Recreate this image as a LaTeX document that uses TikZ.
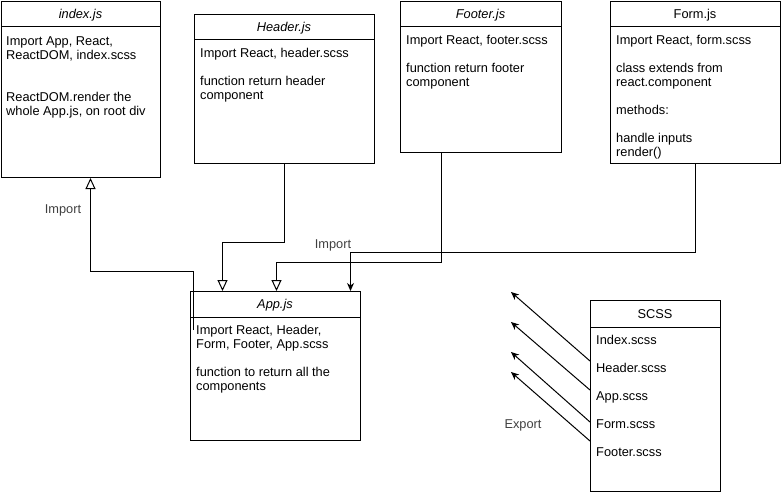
\documentclass[tikz,border=0pt]{standalone}
\usepackage{fontspec}
\setmainfont{Liberation Sans}
\usetikzlibrary{arrows.meta}
\begin{document}
\begin{tikzpicture}[x=1pt,y=-1pt,
  box/.style={draw, line width=1pt, anchor=north west, inner sep=0pt},
  sep/.style={line width=1pt},
  ttl/.style={font=\fontsize{12.8}{14}\selectfont\itshape, inner sep=0pt, anchor=base},
  ttlup/.style={font=\fontsize{12.8}{14}\selectfont, inner sep=0pt, anchor=base},
  body/.style={anchor=north west, inner sep=0pt, align=left, font=\fontsize{12.8}{14}\selectfont},
  lbl/.style={font=\fontsize{12.8}{14}\selectfont, text=black!75, inner sep=0pt, anchor=base},
  conn/.style={line width=1pt},
  openarr/.style={conn, -{Triangle[open, length=11pt, width=10pt, fill=white]}},
  fillarr/.style={conn, -{Stealth[length=8pt, width=7pt, inset=2.5pt]}}
]
\useasboundingbox (0,0) rectangle (781,495);

% boxes
\node[box, minimum width=159pt, minimum height=176pt] (idx) at (1,1) {};
\node[box, minimum width=180pt, minimum height=149pt] (hdr) at (194,14) {};
\node[box, minimum width=161pt, minimum height=151pt] (ftr) at (400,1) {};
\node[box, minimum width=170pt, minimum height=162pt] (frm) at (610,1) {};
\node[box, minimum width=170pt, minimum height=149pt] (app) at (190,291) {};
\node[box, minimum width=130pt, minimum height=191pt] (scss) at (590,300) {};

% title separators
\draw[sep] ([yshift=-26pt]idx.north west) -- ([yshift=-26pt]idx.north east);
\draw[sep] ([yshift=-26pt]hdr.north west) -- ([yshift=-26pt]hdr.north east);
\draw[sep] ([yshift=-26pt]ftr.north west) -- ([yshift=-26pt]ftr.north east);
\draw[sep] ([yshift=-26pt]frm.north west) -- ([yshift=-26pt]frm.north east);
\draw[sep] ([yshift=-26pt]app.north west) -- ([yshift=-26pt]app.north east);
\draw[sep] ([yshift=-27pt]scss.north west) -- ([yshift=-27pt]scss.north east);

% titles
\node[ttl] (tidx) at (80.5,18.5) {index.js};
\node[ttl] (thdr) at (284,31.5) {Header.js};
\node[ttl] (tftr) at (480.5,18.5) {Footer.js};
\node[ttlup] (tfrm) at (695,18.5) {Form.js};
\node[ttl] (tapp) at (275,308.5) {App.js};
\node[ttlup] (tscss) at (655,318.5) {SCSS};

% bodies
\node[body] (bidx) at (6,35.2) {\strut Import App, React,\\ReactDOM, index.scss\\[28pt]ReactDOM.render the\\whole App.js, on root div};
\node[body] (bhdr) at (200,47.2) {\strut Import React, header.scss\\[14.5pt]function return header\\component};
\node[body] (bftr) at (406,34.2) {\strut Import React, footer.scss\\[14pt]function return footer\\component};
\node[body] (bfrm) at (616,34.2) {\strut Import React, form.scss\\[14pt]class extends from\\react.component\\[14pt]methods:\\[14pt]handle inputs\\render()};
\node[body] (bapp) at (196,324.2) {\strut Import React, Header,\\Form, Footer, App.scss\\[14pt]function to return all the\\components};
\node[body] (bscss) at (596,334.2) {\strut Index.scss\\[14pt]Header.scss\\[14pt]App.scss\\[14pt]Form.scss\\[14pt]Footer.scss};

% labels
\node[lbl] (limp1) at (63,213) {Import};
\node[lbl] (limp2) at (333,248) {Import};
\node[lbl] (lexp) at (523,428) {Export};

% connectors
\coordinate (appin) at (193,330);
\draw[openarr] (appin) -- ++(0,-59) -| ([xshift=9.5pt]idx.south);
\draw[openarr] (hdr.south) -- ++(0,78) -| ([xshift=-53pt]app.north);
\draw[openarr] ([xshift=-39.5pt]ftr.south) -- ++(0,109) -| ([xshift=1pt]app.north);
\draw[fillarr] (frm.south) -- ++(0,88) -| ([xshift=75pt]app.north);

\coordinate (t1) at (511,292);
\coordinate (t2) at (511,322);
\coordinate (t3) at (511,352);
\coordinate (t4) at (511,372);
\draw[fillarr] ([yshift=-61pt]scss.north west) -- (t1);
\draw[fillarr] ([yshift=-90pt]scss.north west) -- (t2);
\draw[fillarr] ([yshift=-122pt]scss.north west) -- (t3);
\draw[fillarr] ([yshift=-141pt]scss.north west) -- (t4);
\end{tikzpicture}
\end{document}
